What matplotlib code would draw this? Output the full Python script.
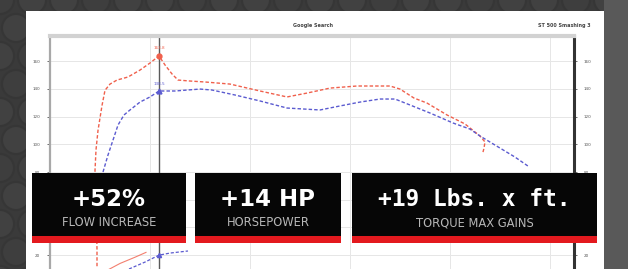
import matplotlib
matplotlib.use("Agg")
import matplotlib.pyplot as plt
from matplotlib.patches import Rectangle, Circle

W, H = 628, 269

# ---------------- data ----------------
rpm_mod = [1470, 1470, 1460, 1450, 1460, 1480, 1520, 1550, 1600, 1670, 1780, 1900, 2000, 2090,
           2150, 2220, 2280, 2400, 2550, 2800, 3100, 3370, 3570, 3800, 4070, 4400, 4500,
           4640, 4770, 4970, 5150, 5300, 5350, 5340, 5330]
hp_mod = [12, 24, 60, 81, 96, 110, 128, 139, 143.5, 146.4, 148.6, 153.6, 158.7, 163.8,
          157.3, 150.8, 146.4, 145.7, 145.0, 143.5, 138.5, 134.2, 137.0, 140.6, 142.1, 142.1, 139.9,
          133.4, 129.8, 121.2, 114.7, 106.0, 101.7, 97.3, 94.4]
rpm_stock = [1530, 1580, 1620, 1680, 1740, 1800, 1900, 2000, 2090, 2250, 2500, 2620, 2850, 3100,
             3370, 3700, 3900, 4100, 4300, 4450, 4600, 4800, 5030, 5200, 5300, 5500, 5650, 5780]
hp_stock = [80.0, 92.3, 100.9, 113.9, 121.2, 124.8, 130.5, 134.2, 138.5, 138.5, 139.9, 139.2, 135.6,
            131.3, 126.2, 124.8, 127.7, 130.5, 132.7, 132.7, 128.4, 122.6, 115.4, 111.0, 106.0,
            97.3, 90.8, 84.3]
rpm_tq_mod = [1570, 1700, 1850, 1960]
tq_mod = [9, 14, 18.5, 22]
rpm_tq_stock = [1790, 1950, 2090, 2200, 2380]
tq_stock = [10, 15, 20, 21.5, 23]
peak_rpm = 2090
peak_mod_label = "163.8"
peak_stock_label = "138.5"
y_ticks = [20, 40, 60, 80, 100, 120, 140, 160]
x_grid = [2000, 3000, 4000, 5000, 6000]
title_center = "Google Search"
title_right = "ST 500 Smashing 3"
stats = ["+52%", "+14 HP", "+19 Lbs. x ft."]
stat_labels = ["FLOW INCREASE", "HORSEPOWER", "TORQUE MAX GAINS"]

RED = "#f0604c"
BLUE = "#5b5bd0"

fig = plt.figure(figsize=(W / 100, H / 100), dpi=100)

# ---------------- background (pixel coords) ----------------
bg = fig.add_axes([0, 0, 1, 1], zorder=0)
bg.set_xlim(0, W)
bg.set_ylim(H, 0)
bg.axis("off")
bg.add_patch(Rectangle((0, 0), W, H, facecolor="#3a3a3a", edgecolor="none"))
# subtle textured circles pattern
r = 16
for row in range(-1, 11):
    for col in range(-1, 22):
        cx = col * 32 + (16 if row % 2 else 0)
        cy = row * 28
        shade = "#414141" if (row + col) % 3 else "#3e3e3e"
        bg.add_patch(Circle((cx, cy), r - 2, facecolor=shade, edgecolor="#363636", lw=1.5))
bg.add_patch(Rectangle((604, 0), 24, H, facecolor="#595959", edgecolor="none"))
bg.add_patch(Rectangle((26, 11), 578, H - 11, facecolor="white", edgecolor="none"))

# ---------------- chart ----------------
ax = fig.add_axes([50 / W, 0, 524 / W, (H - 36) / H], zorder=1)
ax.patch.set_alpha(0)
ax.set_xlim(1000, 6240)
ax.set_ylim(10, 178.2)
ax.set_xticks(x_grid)
ax.set_yticks(y_ticks)
ax.grid(True, color="#e6e6e6", lw=0.7)
ax.tick_params(axis="x", length=0, labelbottom=False)
ax.tick_params(axis="y", length=2, width=0.6, color="#555", labelsize=3,
               labelcolor="#555", pad=5, right=True, labelright=True)
ax.spines["bottom"].set_visible(False)
ax.spines["left"].set_color("#a8a8a8")
ax.spines["left"].set_linewidth(1.6)
ax.spines["top"].set_color("#d2d2d2")
ax.spines["top"].set_linewidth(3)
ax.spines["right"].set_color("#333333")
ax.spines["right"].set_linewidth(2.2)

ax.axvline(peak_rpm, color="#5a5a5a", lw=1.0, zorder=2)
ax.plot(rpm_mod, hp_mod, color=RED, lw=1.0, ls=(0, (2.5, 1.5)), zorder=3)
ax.plot(rpm_stock, hp_stock, color=BLUE, lw=1.0, ls=(0, (2.5, 1.5)), zorder=3)
ax.plot(rpm_tq_mod, tq_mod, color=RED, lw=0.8, alpha=0.8, zorder=3)
ax.plot(rpm_tq_stock, tq_stock, color=BLUE, lw=0.9, ls=(0, (2.5, 1.5)), zorder=3)
ax.plot([peak_rpm], [max(hp_mod)], marker="o", ms=3.5, color=RED, zorder=4)
ax.plot([peak_rpm], [hp_stock[rpm_stock.index(peak_rpm)]], marker="^", ms=3.5, color=BLUE, zorder=4)
ax.plot([peak_rpm], [tq_stock[rpm_tq_stock.index(peak_rpm)]], marker="^", ms=3, color=BLUE, zorder=4)
ax.annotate(peak_mod_label, (peak_rpm, max(hp_mod)), xytext=(0, 5), textcoords="offset points",
            ha="center", fontsize=3, color=RED)
ax.annotate(peak_stock_label, (peak_rpm, hp_stock[rpm_stock.index(peak_rpm)]), xytext=(0, 4),
            textcoords="offset points", ha="center", fontsize=3, color=BLUE)

# ---------------- overlay (titles and stat boxes) ----------------
ov = fig.add_axes([0, 0, 1, 1], zorder=2)
ov.set_xlim(0, W)
ov.set_ylim(H, 0)
ov.axis("off")
ov.patch.set_alpha(0)
ov.text(313, 25, title_center, ha="center", va="center", fontsize=3.5, color="#444",
        fontweight="bold")
ov.text(591, 25, title_right, ha="right", va="center", fontsize=3.5, color="#444",
        fontweight="bold")

boxes = [(32, 186), (195, 341), (352, 597)]
fonts = ["DejaVu Sans", "DejaVu Sans", "DejaVu Sans Mono"]
for (x0, x1), big, small, fam in zip(boxes, stats, stat_labels, fonts):
    ov.add_patch(Rectangle((x0, 173), x1 - x0, 64, facecolor="#060606", edgecolor="none"))
    ov.add_patch(Rectangle((x0, 236), x1 - x0, 7, facecolor="#e3191e", edgecolor="none"))
    cx = (x0 + x1) / 2
    ov.text(cx, 199, big, ha="center", va="center", fontsize=16.5, fontweight="heavy",
            color="white", family=[fam, "DejaVu Sans"])
    ov.text(cx, 222.5, small, ha="center", va="center", fontsize=8.3, color="#b8b8b8",
            family=["Liberation Sans Narrow", "DejaVu Sans"])

fig.savefig("out.png", dpi=100)
